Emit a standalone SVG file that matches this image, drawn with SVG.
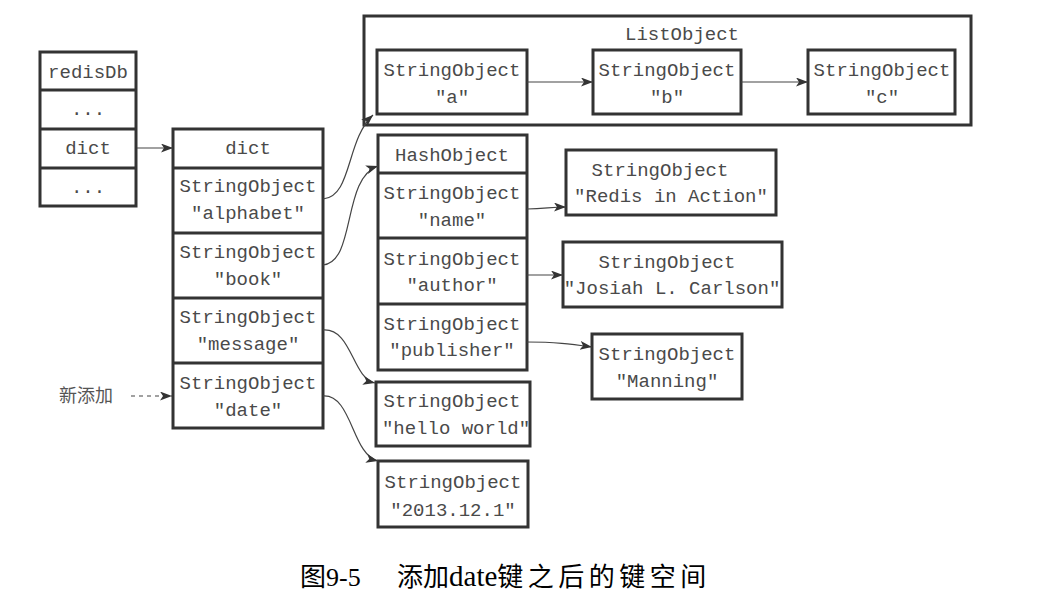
<svg xmlns="http://www.w3.org/2000/svg" width="1057" height="605" viewBox="0 0 1057 605">
  <style>
    .box { fill: #ffffff; stroke: #333333; stroke-width: 3; }
    .t { font-family: "Liberation Mono", "DejaVu Sans Mono", monospace; font-size: 19px; fill: #4a4a4a; text-anchor: middle; }
    .conn { fill: none; stroke: #444444; stroke-width: 1.2; }
    .cap { font-family: "Liberation Serif", "Noto Sans CJK SC", serif; font-size: 26px; fill: #000000; }
  </style>
  <defs>
    <marker id="ah" markerUnits="userSpaceOnUse" markerWidth="13" markerHeight="10" refX="12" refY="4.5" orient="auto">
      <path d="M0,0 L12,4.5 L0,9 L3,4.5 z" fill="#333333"/>
    </marker>
  </defs>
  <rect width="1057" height="605" fill="#ffffff"/>

  <g id="redisDb">
    <rect class="box" x="40" y="52" width="96" height="154"/>
    <line class="box" x1="40" y1="90" x2="136" y2="90"/>
    <line class="box" x1="40" y1="129" x2="136" y2="129"/>
    <line class="box" x1="40" y1="168" x2="136" y2="168"/>
    <text class="t" x="88" y="78">redisDb</text>
    <text class="t" x="88" y="115">...</text>
    <text class="t" x="88" y="154">dict</text>
    <text class="t" x="88" y="193">...</text>
  </g>

  <g id="dict">
    <rect class="box" x="173" y="129" width="150" height="299"/>
    <line class="box" x1="173" y1="168" x2="323" y2="168"/>
    <line class="box" x1="173" y1="233" x2="323" y2="233"/>
    <line class="box" x1="173" y1="298" x2="323" y2="298"/>
    <line class="box" x1="173" y1="363" x2="323" y2="363"/>
    <text class="t" x="248" y="154">dict</text>
    <text class="t" x="248" y="192">StringObject</text>
    <text class="t" x="248" y="219">"alphabet"</text>
    <text class="t" x="248" y="258">StringObject</text>
    <text class="t" x="248" y="285">"book"</text>
    <text class="t" x="248" y="323">StringObject</text>
    <text class="t" x="248" y="350">"message"</text>
    <text class="t" x="248" y="389">StringObject</text>
    <text class="t" x="248" y="416">"date"</text>
  </g>

  <g id="newLabel">
    <text x="86" y="402" style="font-family: 'Noto Sans CJK SC', sans-serif; font-size: 18px; fill: #555555; text-anchor: middle;">新添加</text>
  </g>

  <g id="listObject">
    <rect class="box" x="364" y="16" width="607" height="109"/>
    <text class="t" x="682" y="40">ListObject</text>
  </g>
  <g id="strA">
    <rect class="box" x="377" y="50" width="150" height="64"/>
    <text class="t" x="452" y="76">StringObject</text>
    <text class="t" x="452" y="103">"a"</text>
  </g>
  <g id="strB">
    <rect class="box" x="593" y="50" width="148" height="64"/>
    <text class="t" x="667" y="76">StringObject</text>
    <text class="t" x="667" y="103">"b"</text>
  </g>
  <g id="strC">
    <rect class="box" x="808" y="50" width="147" height="64"/>
    <text class="t" x="882" y="76">StringObject</text>
    <text class="t" x="882" y="103">"c"</text>
  </g>

  <g id="hashObject">
    <rect class="box" x="378" y="135" width="149" height="235"/>
    <line class="box" x1="378" y1="173" x2="527" y2="173"/>
    <line class="box" x1="378" y1="238" x2="527" y2="238"/>
    <line class="box" x1="378" y1="304" x2="527" y2="304"/>
    <text class="t" x="452" y="161">HashObject</text>
    <text class="t" x="452" y="199">StringObject</text>
    <text class="t" x="452" y="226">"name"</text>
    <text class="t" x="452" y="265">StringObject</text>
    <text class="t" x="452" y="291">"author"</text>
    <text class="t" x="452" y="330">StringObject</text>
    <text class="t" x="452" y="356">"publisher"</text>
  </g>

  <g id="strRedis">
    <rect class="box" x="566" y="150" width="210" height="65"/>
    <text class="t" x="660" y="176">StringObject</text>
    <text class="t" x="671" y="202">"Redis in Action"</text>
  </g>
  <g id="strJosiah">
    <rect class="box" x="563" y="242" width="219" height="65"/>
    <text class="t" x="667" y="268">StringObject</text>
    <text class="t" x="672" y="294">"Josiah L. Carlson"</text>
  </g>
  <g id="strManning">
    <rect class="box" x="592" y="334" width="150" height="65"/>
    <text class="t" x="667" y="360">StringObject</text>
    <text class="t" x="667" y="387">"Manning"</text>
  </g>
  <g id="strHello">
    <rect class="box" x="376" y="382" width="154" height="64"/>
    <text class="t" x="452" y="407">StringObject</text>
    <text class="t" x="456" y="434">"hello world"</text>
  </g>
  <g id="strDate">
    <rect class="box" x="378" y="461" width="150" height="66"/>
    <text class="t" x="453" y="488">StringObject</text>
    <text class="t" x="453" y="516">"2013.12.1"</text>
  </g>

  <g id="connectors">
    <path class="conn" d="M137,148 L173,148" marker-end="url(#ah)"/>
    <path class="conn" d="M131,396 L172,396" stroke-dasharray="4,4" marker-end="url(#ah)"/>
    <path class="conn" d="M323,199 C352,197 346,140 373,115" marker-end="url(#ah)"/>
    <path class="conn" d="M323,265 C356,262 342,178 378,166" marker-end="url(#ah)"/>
    <path class="conn" d="M323,330 C352,328 352,378 375,383" marker-end="url(#ah)"/>
    <path class="conn" d="M323,396 C352,394 352,455 378,461" marker-end="url(#ah)"/>
    <path class="conn" d="M527,82 L593,82" marker-end="url(#ah)"/>
    <path class="conn" d="M741,82 L808,82" marker-end="url(#ah)"/>
    <path class="conn" d="M527,209 C545,209 550,207 566,207" marker-end="url(#ah)"/>
    <path class="conn" d="M527,275 L563,275" marker-end="url(#ah)"/>
    <path class="conn" d="M527,342 C555,342 570,344 592,347" marker-end="url(#ah)"/>
  </g>

  <g id="caption">
    <text class="cap" x="300" y="586">图9-5</text>
    <text class="cap" x="397" y="586">添加<tspan style="font-size: 29px;">date</tspan><tspan letter-spacing="4.5">键之后的键空间</tspan></text>
  </g>
</svg>
